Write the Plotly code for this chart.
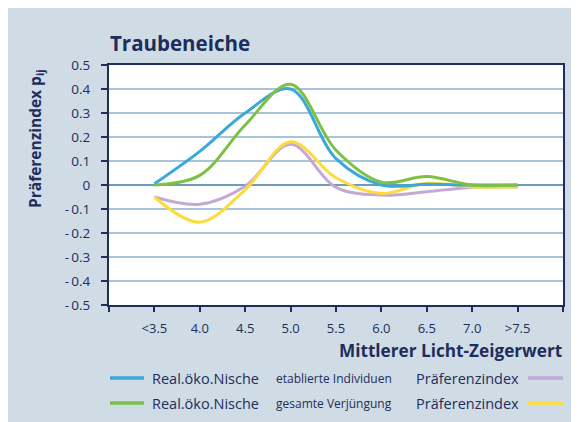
import plotly.graph_objects as go

# ---- data ----
x_vals = [3.5, 4.0, 4.5, 5.0, 5.5, 6.0, 6.5, 7.0, 7.5]
etabl_nische = [0.005, 0.14, 0.30, 0.40, 0.11, 0.0, 0.003, 0.0, 0.0]
verj_nische = [0.0, 0.04, 0.25, 0.42, 0.145, 0.012, 0.035, 0.0, 0.0]
etabl_praef = [-0.05, -0.08, -0.005, 0.17, -0.01, -0.042, -0.028, -0.01, -0.008]
verj_praef = [-0.05, -0.155, -0.02, 0.18, 0.03, -0.035, 0.007, -0.008, -0.008]

x_tickvals = [3.5, 4.0, 4.5, 5.0, 5.5, 6.0, 6.5, 7.0, 7.5]
x_ticktext = ["<3.5", "4.0", "4.5", "5.0", "5.5", "6.0", "6.5", "7.0", ">7.5"]
x_edge_ticks = [3.0, 8.0]
y_tickvals = [0.5, 0.4, 0.3, 0.2, 0.1, 0.0, -0.1, -0.2, -0.3, -0.4, -0.5]
y_ticktext = ["0.5", "0.4", "0.3", "0.2", "0.1", "0", "-\u20090.1", "-\u20090.2", "-\u20090.3",
              "-\u20090.4", "-\u20090.5"]

NAVY = "#1E2D5C"
BG = "#CFDCE5"
C_BLUE = "#3AA8DA"
C_GREEN = "#7CC143"
C_PURPLE = "#C4A9D4"
C_YELLOW = "#FDDC3A"
FONT = "Open Sans"

OFF = 8  # page body margin
W, H = 579, 422
L, T = 109 - OFF, 65 - OFF
R = W - (563 - OFF)
B = H - (305 - OFF)
PW, PH = W - L - R, H - T - B


def px(xp):  # screenshot x -> paper x
    return (xp - OFF - L) / PW


def py(yp):  # screenshot y -> paper y
    return (H - B - (yp - OFF)) / PH


fig = go.Figure()
for vals, col in [(etabl_praef, C_PURPLE), (verj_praef, C_YELLOW),
                  (etabl_nische, C_BLUE), (verj_nische, C_GREEN)]:
    fig.add_trace(go.Scatter(x=x_vals, y=vals, mode="lines",
                             line=dict(color=col, width=3, shape="spline", smoothing=1.0),
                             showlegend=False, hoverinfo="skip"))

shapes = []
annotations = [
    dict(text="<b>Traubeneiche</b>", xref="paper", yref="paper", x=px(108), y=py(43),
         xanchor="left", yanchor="middle", showarrow=False,
         font=dict(family=FONT, size=20.5, color=NAVY)),
    dict(text="<b>Präferenzindex p<sub>ij</sub></b>", xref="paper", yref="paper", x=px(35), y=py(139),
         xanchor="center", yanchor="middle", textangle=-90, showarrow=False,
         font=dict(family=FONT, size=15.5, color=NAVY)),
    dict(text="<b>Mittlerer Licht-Zeigerwert</b>", xref="paper", yref="paper", x=px(564), y=py(350),
         xanchor="right", yanchor="middle", showarrow=False,
         font=dict(family=FONT, size=17.2, color=NAVY)),
]

legend_rows = [
    (378, C_BLUE, "etablierte Individuen", C_PURPLE),
    (403, C_GREEN, "gesamte Verjüngung", C_YELLOW),
]
for yy, c1, sub, c2 in legend_rows:
    shapes.append(dict(type="line", xref="paper", yref="paper", x0=px(110), x1=px(144),
                       y0=py(yy), y1=py(yy), line=dict(color=c1, width=3.5), layer="above"))
    shapes.append(dict(type="line", xref="paper", yref="paper", x0=px(528), x1=px(563),
                       y0=py(yy), y1=py(yy), line=dict(color=c2, width=3.5), layer="above"))
    annotations.append(dict(text="Real.öko.Nische", xref="paper", yref="paper", x=px(150), y=py(yy),
                            xanchor="left", yanchor="middle", showarrow=False,
                            font=dict(family=FONT, size=14.5, color=NAVY)))
    annotations.append(dict(text=sub, xref="paper", yref="paper", x=px(274), y=py(yy),
                            xanchor="left", yanchor="middle", showarrow=False,
                            font=dict(family=FONT, size=12, color=NAVY)))
    annotations.append(dict(text="Präferenzindex", xref="paper", yref="paper", x=px(521), y=py(yy),
                            xanchor="right", yanchor="middle", showarrow=False,
                            font=dict(family=FONT, size=14.5, color=NAVY)))

fig.update_layout(
    width=W, height=H,
    margin=dict(l=L, r=R, t=T, b=B, pad=0),
    paper_bgcolor=BG, plot_bgcolor="white",
    font=dict(family=FONT, color=NAVY, size=13),
    shapes=shapes, annotations=annotations,
    showlegend=False,
)
fig.update_xaxes(range=[3, 8], tickmode="array", tickvals=x_tickvals, ticktext=x_ticktext,
                 showgrid=False, zeroline=False, showline=True, linecolor=NAVY, linewidth=2,
                 mirror=True, ticks="outside", ticklen=5, tickwidth=1.5, tickcolor=NAVY,
                 ticklabelstandoff=5, tickfont=dict(family=FONT, size=13, color=NAVY),
                 minor=dict(tickmode="array", tickvals=x_edge_ticks, ticks="outside", ticklen=5,
                            tickwidth=1.5, tickcolor=NAVY, showgrid=False))
fig.update_yaxes(range=[-0.5, 0.5], tickmode="array", tickvals=y_tickvals, ticktext=y_ticktext,
                 showgrid=True, gridcolor="#A8C4D8", gridwidth=2,
                 zeroline=True, zerolinecolor="#6F9BBB", zerolinewidth=2,
                 showline=True, linecolor=NAVY, linewidth=2, mirror=True,
                 ticks="outside", ticklen=6, tickwidth=1.5, tickcolor=NAVY,
                 ticklabelstandoff=8, tickfont=dict(family=FONT, size=13.5, color=NAVY))

fig.write_html("out.html")
